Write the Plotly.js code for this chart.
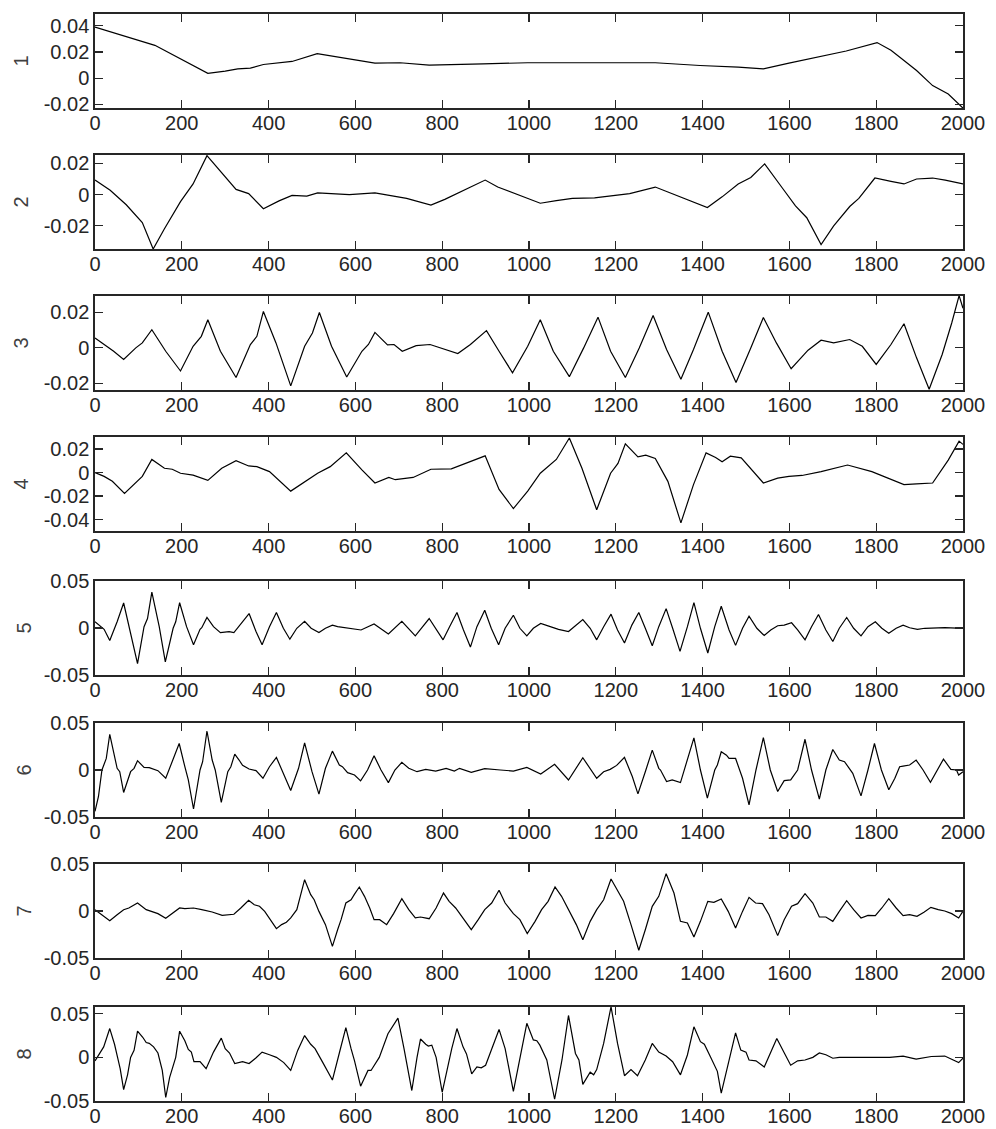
<!DOCTYPE html>
<html>
<head>
<meta charset="utf-8">
<script src="https://cdn.plot.ly/plotly-3.0.1.min.js"></script>
<style>html,body{margin:0;padding:0;background:#fff;}#chart{width:996px;height:1129px;}</style>
</head>
<body>
<div id="chart"></div>
<script>
// ---- data ----
const x1 = [0,138,260,300,329,358,388,424,454,512,549,593,645,703,770,894,997,1291,1394,1482,1540,1599,1673,1731,1802,1834,1864,1893,1930,1966,2000];
const y1 = [0.039,0.0251,0.0038,0.0054,0.0072,0.0077,0.0105,0.0115,0.0128,0.0187,0.0167,0.0141,0.0115,0.0118,0.0100,0.0110,0.0118,0.0118,0.0097,0.0085,0.0072,0.0115,0.0167,0.0208,0.0272,0.0213,0.0136,0.0059,-0.0056,-0.0120,-0.0228];

const x2 = [0,35,72,109,134,160,197,226,258,292,325,354,388,424,454,488,513,586,645,718,774,806,843,899,928,964,1026,1063,1100,1151,1232,1291,1350,1379,1411,1445,1482,1511,1543,1585,1614,1640,1673,1702,1739,1760,1797,1834,1864,1893,1930,1959,2000];
const y2 = [0.0093,0.0027,-0.0066,-0.018,-0.035,-0.022,-0.0046,0.0068,0.025,0.0141,0.0033,0.0006,-0.0091,-0.0041,-0.0006,-0.001,0.001,0,0.001,-0.0025,-0.0068,-0.0031,0.0017,0.0093,0.0048,0.001,-0.0056,-0.0039,-0.0025,-0.0021,0.0006,0.0048,-0.0015,-0.0046,-0.0083,-0.0015,0.0068,0.011,0.0197,0.0037,-0.0073,-0.0149,-0.0321,-0.0201,-0.0077,-0.0025,0.0106,0.0085,0.0068,0.01,0.0106,0.0093,0.0068];

const x3 = [0,21,43,66,94,109,131,163,197,226,245,260,289,325,358,373,388,417,451,483,501,517,545,580,615,630,645,674,689,708,740,772,836,865,902,931,962,997,1026,1056,1093,1126,1159,1188,1222,1254,1286,1317,1350,1379,1413,1445,1477,1511,1540,1570,1604,1643,1673,1702,1739,1768,1800,1834,1864,1893,1922,1952,1974,1991,2000];
const y3 = [0.0056,0.0019,-0.0019,-0.0065,0,0.0028,0.0102,-0.0019,-0.013,0.0009,0.0065,0.0158,-0.0019,-0.0167,0.0019,0.0065,0.0205,0.0028,-0.0214,0.0009,0.0084,0.0199,0.0009,-0.0164,-0.0019,0.0019,0.0087,0.0017,0.0019,-0.0019,0.0013,0.0019,-0.0032,0.0019,0.0097,-0.0019,-0.014,0.0009,0.0158,-0.0019,-0.0162,0,0.0173,-0.0019,-0.0167,0,0.0182,-0.0009,-0.0177,-0.0009,0.0201,-0.0019,-0.0195,0,0.0171,0.0028,-0.0117,-0.0013,0.0043,0.0028,0.0047,0.0009,-0.0093,0.0019,0.0136,-0.0056,-0.0233,-0.0037,0.014,0.0294,0.0223];

const x4 = [0,21,40,68,109,131,160,178,197,226,260,292,325,354,373,402,451,488,513,542,579,615,645,677,692,733,774,821,865,899,931,964,997,1026,1063,1093,1122,1156,1188,1205,1222,1251,1269,1291,1320,1350,1379,1408,1430,1445,1464,1489,1540,1573,1599,1629,1673,1734,1790,1827,1864,1893,1930,1966,1991,2000];
const y4 = [0,-0.0033,-0.0075,-0.0178,-0.0033,0.0111,0.0036,0.0028,-0.0006,-0.0022,-0.0067,0.0036,0.01,0.0056,0.005,0.0008,-0.0158,-0.0067,-0.0006,0.005,0.0167,0.0022,-0.0089,-0.0042,-0.0061,-0.0042,0.0028,0.0031,0.0092,0.0142,-0.0144,-0.0306,-0.0158,-0.0006,0.0111,0.0294,0.0036,-0.0317,-0.0006,0.0078,0.0244,0.0133,0.0147,0.0119,-0.0075,-0.0428,-0.0103,0.0167,0.0128,0.0092,0.0139,0.0125,-0.0089,-0.0047,-0.0033,-0.0025,0.0008,0.0064,0.0008,-0.0047,-0.0103,-0.0097,-0.0089,0.0106,0.0267,0.0239];

const x5 = [0,12,21,34,51,66,82,98,113,121,131,148,162,180,186,195,211,227,242,246,258,273,289,309,320,355,371,385,402,418,434,449,465,483,498,516,531,547,559,582,613,643,676,707,738,770,786,802,817,834,849,865,880,898,913,930,945,964,979,995,1010,1027,1049,1068,1091,1124,1141,1156,1172,1189,1204,1220,1237,1253,1268,1284,1299,1316,1331,1348,1365,1380,1395,1412,1428,1443,1461,1476,1492,1507,1525,1542,1557,1573,1588,1605,1619,1636,1651,1667,1684,1700,1715,1732,1748,1765,1781,1798,1813,1829,1846,1862,1877,1895,1912,1958,2000];
const y5 = [0.0066,0.0014,-0.0014,-0.0133,0.0066,0.0266,-0.0073,-0.0378,0.0014,0.01,0.0381,0.0014,-0.036,-0.0003,0.0066,0.0269,0.0014,-0.0178,-0.0014,0.0003,0.0112,0.0014,-0.0049,-0.0038,-0.0049,0.0154,-0.0038,-0.0178,0.0014,0.0164,-0.0003,-0.0119,-0.0003,0.007,-0.0003,-0.0049,-0.0003,0.0031,0.0014,-0.0003,-0.0021,0.0042,-0.0063,0.007,-0.0084,0.0101,-0.0014,-0.0126,0.0014,0.0164,-0.0021,-0.0203,0.0014,0.0189,-0.0003,-0.0178,-0.0003,0.0136,-0.0003,-0.0084,-0.0003,0.0049,0.0014,-0.0014,-0.0038,0.009,-0.0003,-0.0126,0.0014,0.0147,-0.0021,-0.016,0.0031,0.0164,-0.0003,-0.0189,0.0014,0.0206,-0.0003,-0.0248,0.0014,0.0269,-0.0003,-0.0266,0.0014,0.0231,-0.0021,-0.0185,-0.0003,0.0126,-0.0003,-0.008,-0.0021,0.0024,0.0031,0.0056,-0.0021,-0.0126,0.0014,0.0143,-0.0021,-0.0143,-0.0003,0.0112,-0.0003,-0.0084,0.0014,0.0066,-0.0003,-0.0056,-0.0003,0.0031,0.0003,-0.0014,-0.0003,0.0003,-0.0003];

const x6 = [0,8,16,26,34,43,51,57,66,82,90,98,113,125,145,163,177,194,207,215,227,242,248,258,270,277,291,306,313,322,332,340,355,371,387,402,418,434,451,469,483,500,516,531,547,563,570,582,598,612,628,643,659,676,691,707,723,742,762,785,809,828,840,867,898,934,964,995,1027,1059,1091,1124,1156,1172,1187,1202,1220,1238,1251,1268,1284,1299,1303,1317,1330,1349,1365,1380,1395,1411,1428,1434,1443,1455,1461,1476,1492,1507,1523,1540,1556,1573,1588,1603,1619,1636,1651,1669,1684,1700,1715,1727,1746,1765,1781,1796,1812,1829,1843,1854,1862,1877,1892,1908,1925,1943,1955,1972,1985,1990,2000];
const y6 = [-0.044,-0.0282,0,0.0123,0.038,0.0194,0.0018,-0.0018,-0.0239,-0.0018,0.0018,0.0099,0.0028,0.0025,-0.0007,-0.0088,0.0088,0.0282,0.0035,-0.0106,-0.0415,0,0.0088,0.0415,0.0106,0,-0.0345,-0.0018,0.0035,0.0169,0.0106,0.0049,0.0011,-0.0007,-0.0088,0.0035,0.0134,-0.0035,-0.0218,0.0018,0.0289,-0.0018,-0.0257,0.0018,0.0201,0.0053,0.0035,-0.0028,-0.0053,-0.0116,0,0.0151,0,-0.0134,0,0.0081,0.0018,-0.0018,0.0007,-0.0011,0.0018,-0.0011,0.0018,-0.0025,0.0014,0,-0.0011,0.0028,-0.0042,0.006,-0.0106,0.013,-0.0088,-0.0018,0.0007,0.0049,0.0134,-0.007,-0.0254,-0.0018,0.0211,0.0018,0,-0.0123,-0.0106,-0.0134,0.0106,0.0342,0,-0.03,0,0.0053,0.0194,0.0158,0.0123,0.0123,-0.0088,-0.037,0,0.0345,0,-0.0229,-0.0113,-0.0106,0,0.0327,0,-0.031,0,0.0218,0.0106,0.0088,-0.0035,-0.0275,0,0.0282,0,-0.0211,-0.0088,0.0035,0.0042,0.0053,0.0106,0,-0.013,0.0018,0.0116,0.0007,0,-0.0053,-0.0018];

const x7 = [0,16,34,51,66,78,98,118,133,145,163,177,195,207,227,246,270,293,320,336,354,367,379,391,402,418,430,441,451,465,483,497,505,516,531,547,559,567,578,590,598,609,621,633,643,656,672,688,707,723,738,750,770,786,803,816,831,848,867,883,898,914,931,945,964,979,996,1014,1029,1044,1060,1075,1091,1109,1124,1141,1156,1172,1189,1203,1218,1235,1253,1268,1284,1299,1316,1334,1349,1365,1380,1395,1412,1426,1443,1459,1476,1492,1507,1522,1538,1553,1573,1588,1605,1619,1636,1654,1669,1684,1700,1715,1732,1748,1765,1781,1798,1813,1829,1846,1862,1877,1894,1910,1926,1943,1958,1974,1990,2000];
const y7 = [0.0014,-0.0039,-0.0103,-0.0039,0.0014,0.0032,0.0085,0.0014,-0.0014,-0.0028,-0.0078,-0.0028,0.0032,0.0025,0.0032,0.0014,-0.0011,-0.0046,-0.0035,0.0032,0.0113,0.0067,0.005,-0.0004,-0.0074,-0.0188,-0.0145,-0.012,-0.0074,0.0014,0.0333,0.0174,0.012,-0.0004,-0.0145,-0.0376,-0.0199,-0.0092,0.0085,0.012,0.018,0.0255,0.0156,0.0032,-0.0092,-0.0092,-0.0145,-0.0028,0.0131,0.0014,-0.0074,-0.0064,-0.0082,0.0032,0.0191,0.0103,0.0032,-0.0074,-0.0199,-0.0092,0.0014,0.0085,0.022,0.0085,-0.0028,-0.0092,-0.0241,-0.011,0.0014,0.0103,0.0255,0.0156,0.0014,-0.0145,-0.0305,-0.011,0.0014,0.012,0.034,0.0227,0.0103,-0.0145,-0.0418,-0.0199,0.005,0.0156,0.0397,0.0191,-0.011,-0.0128,-0.0277,-0.011,0.0103,0.0092,0.0128,-0.0004,-0.0181,-0.0004,0.0145,0.0085,0.0078,-0.0039,-0.0262,-0.0092,0.005,0.0078,0.0184,0.0085,-0.0064,-0.0064,-0.011,-0.0004,0.011,0.0014,-0.0074,-0.0046,-0.005,0.0032,0.0131,0.0032,-0.005,-0.0039,-0.0057,-0.0014,0.0039,0.0014,0,-0.0028,-0.0074,0];

const x8 = [0,12,20,34,45,52,58,66,75,82,90,98,110,118,125,135,145,155,163,172,180,186,195,207,215,222,228,242,256,273,291,300,310,322,340,355,370,385,402,418,435,451,467,483,497,507,525,547,563,578,590,598,612,629,636,655,675,698,712,730,742,750,762,768,776,786,800,815,822,834,848,856,868,880,890,900,915,931,945,964,995,1010,1018,1025,1041,1059,1076,1091,1107,1115,1124,1141,1149,1156,1172,1189,1204,1220,1235,1250,1268,1284,1299,1316,1331,1349,1365,1380,1395,1404,1418,1434,1443,1461,1476,1488,1500,1507,1523,1542,1557,1571,1588,1603,1619,1636,1654,1669,1684,1700,1715,1781,1831,1862,1892,1927,1958,1990,2000];
const y8 = [-0.004,0.005,0.012,0.033,0.015,0.0,-0.013,-0.037,-0.02,0.0,0.008,0.030,0.023,0.017,0.016,0.012,0.005,-0.015,-0.046,-0.023,-0.008,0.0,0.030,0.019,0.009,0.006,-0.005,-0.005,-0.013,0.006,0.022,0.01,0.005,-0.007,-0.005,-0.007,-0.001,0.006,0.003,0.0,-0.006,-0.015,0.008,0.025,0.015,0.01,-0.006,-0.026,0.005,0.034,0.01,-0.004,-0.033,-0.015,-0.015,0.0,0.027,0.045,0.01,-0.038,0.0,0.021,0.015,0.013,0.014,0.0,-0.040,-0.005,0.01,0.033,0.012,0.004,-0.019,-0.011,-0.012,-0.009,0.01,0.032,0.01,-0.039,0.039,0.020,0.019,0.014,-0.003,-0.048,-0.003,0.048,0.0045,-0.003,-0.031,-0.017,-0.020,-0.014,0.016,0.058,0.016,-0.021,-0.014,-0.021,-0.003,0.016,0.006,0.0015,-0.005,-0.02,0.0027,0.035,0.018,0.015,0.0008,-0.016,-0.041,-0.003,0.028,0.0083,0.006,-0.003,-0.004,-0.011,0.006,0.0216,0.0053,-0.009,-0.004,-0.003,0.0,0.005,0.003,-0.001,0.0,0.0,0.0,0.0015,-0.002,0.001,0.0015,-0.006,-0.001];

const xTicks = [0,200,400,600,800,1000,1200,1400,1600,1800,2000];
const yTicks1 = [-0.02,0,0.02,0.04];
const yTicks2 = [-0.02,0,0.02];
const yTicks3 = [-0.02,0,0.02];
const yTicks4 = [-0.04,-0.02,0,0.02];
const yTicks5 = [-0.05,0,0.05];
const yTicks6 = [-0.05,0,0.05];
const yTicks7 = [-0.05,0,0.05];
const yTicks8 = [-0.05,0,0.05];
const yTitles = ['1','2','3','4','5','6','7','8'];

// ---- layout ----
const xs = [x1,x2,x3,x4,x5,x6,x7,x8];
const ys = [y1,y2,y3,y4,y5,y6,y7,y8];
const yt = [yTicks1,yTicks2,yTicks3,yTicks4,yTicks5,yTicks6,yTicks7,yTicks8];
const yRanges = [[-0.0227,0.049],[-0.035,0.0254],[-0.0237,0.0292],[-0.0497,0.0302],[-0.05,0.05],[-0.05,0.05],[-0.05,0.05],[-0.05,0.0577]];
const panelTopPx = [14,155,296,437,581,723,864,1007];
const titleStandoff = [10,10,10,10,7,7,7,7];
const panelH = 94;
const W = 996, H = 1129, mL = 95, mR = 33, mT = 14, mB = 28;
const plotH = H - mT - mB;
const axisColor = '#262626';
const fnt = {family:'"Liberation Sans", Arial, Helvetica, sans-serif', size:20, color:axisColor};

const traces = [];
const layout = {
  width: W, height: H,
  margin: {l:mL, r:mR, t:mT, b:mB},
  paper_bgcolor:'#ffffff', plot_bgcolor:'#ffffff',
  showlegend:false,
  font: fnt
};
for (let i = 0; i < 8; i++) {
  const n = i + 1;
  const sfx = n === 1 ? '' : String(n);
  traces.push({x: xs[i], y: ys[i], type:'scatter', mode:'lines',
    line:{color:'#000000', width:1.2}, xaxis:'x'+sfx, yaxis:'y'+sfx, hoverinfo:'skip'});
  const top = panelTopPx[i], bot = top + panelH;
  const d0 = (H - mB - bot) / plotH, d1 = (H - mB - top) / plotH;
  layout['xaxis'+sfx] = {
    domain:[0,1], range:[0,2000], anchor:'y'+sfx,
    tickmode:'array', tickvals:xTicks, ticktext:xTicks.map(String),
    ticks:'inside', ticklen:8, tickwidth:1.2, tickcolor:axisColor,
    ticklabelstandoff:-4,
    showline:true, linecolor:axisColor, linewidth:1.7, mirror:'ticks',
    showgrid:false, zeroline:false, tickfont:fnt, fixedrange:true
  };
  layout['yaxis'+sfx] = {
    domain:[Math.max(0,d0), Math.min(1,d1)], range:yRanges[i], anchor:'x'+sfx,
    tickmode:'array', tickvals:yt[i], ticktext:yt[i].map(v => v === 0 ? '0' : (v < 0 ? '-' : '') + Math.abs(v).toString()),
    ticks:'inside', ticklen:8, tickwidth:1.2, tickcolor:axisColor,
    showline:true, linecolor:axisColor, linewidth:1.7, mirror:'ticks',
    showgrid:false, zeroline:false, tickfont:fnt, fixedrange:true,
    title:{text:yTitles[i], font:{family:fnt.family, size:20, color:'#404040'}, standoff:titleStandoff[i]}
  };
}
Plotly.newPlot('chart', traces, layout, {staticPlot:true, displayModeBar:false});
</script>
</body>
</html>
